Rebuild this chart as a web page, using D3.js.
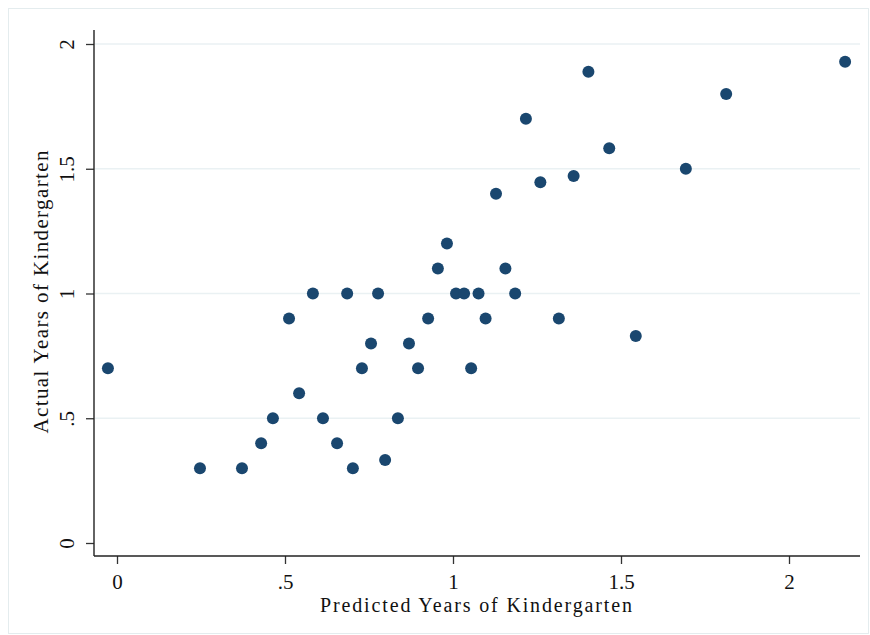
<!DOCTYPE html>
<html>
<head>
<meta charset="utf-8">
<script src="https://cdn.jsdelivr.net/npm/d3@7"></script>
<style>
  body { margin: 0; background: #fff; }
  svg text { font-family: "Liberation Serif", "DejaVu Serif", serif; fill: #111; }
</style>
</head>
<body>
<svg width="870" height="635"></svg>
<script>
// predicted vs actual years, one entry per point
const predicted = [
  -0.027, 0.247, 0.372, 0.429, 0.464, 0.512, 0.542, 0.583, 0.613, 0.655,
  0.685, 0.702, 0.729, 0.756, 0.777, 0.798, 0.836, 0.869, 0.896, 0.926,
  0.955, 0.982, 1.009, 1.033, 1.054, 1.076, 1.097, 1.128, 1.156, 1.185,
  1.217, 1.260, 1.315, 1.359, 1.403, 1.465, 1.544, 1.693, 1.813, 2.167
];
const actual = [
  0.70, 0.30, 0.30, 0.40, 0.50, 0.90, 0.60, 1.00, 0.50, 0.40,
  1.00, 0.30, 0.70, 0.80, 1.00, 0.333, 0.50, 0.80, 0.70, 0.90,
  1.10, 1.20, 1.00, 1.00, 0.70, 1.00, 0.90, 1.40, 1.10, 1.00,
  1.70, 1.446, 0.90, 1.471, 1.889, 1.582, 0.830, 1.50, 1.80, 1.929
];
const xTicks = [0, 0.5, 1, 1.5, 2];
const yTicks = [0, 0.5, 1, 1.5, 2];
const xTitle = 'Predicted Years of Kindergarten';
const yTitle = 'Actual Years of Kindergarten';

const fmt = d => d === 0 ? '0' : String(d).replace(/^0\./, '.');

const svg = d3.select('svg');
const data = predicted.map((p, i) => ({x: p, y: actual[i]}));

// frame
svg.append('rect')
  .attr('x', 8.5).attr('y', 8.5)
  .attr('width', 860).attr('height', 625)
  .attr('fill', '#fff')
  .attr('stroke', '#e4ecee');

const x = d3.scaleLinear().domain([0, 2]).range([117, 789]);
const y = d3.scaleLinear().domain([0, 2]).range([543, 44]);

const plotL = 94, plotR = 860, plotT = 30, plotB = 556;

// gridlines
svg.append('g')
  .selectAll('line')
  .data(yTicks.slice(1))
  .join('line')
    .attr('x1', plotL + 1).attr('x2', plotR)
    .attr('y1', d => y(d)).attr('y2', d => y(d))
    .attr('stroke', '#eaf1f3')
    .attr('stroke-width', 1.5);

// axes
const xAxis = svg.append('g')
  .attr('transform', `translate(0,${plotB})`)
  .call(d3.axisBottom(x).tickValues(xTicks).tickFormat(fmt).tickSize(8).tickPadding(10));
xAxis.select('.domain').remove();
xAxis.selectAll('.tick line').attr('stroke', '#333').attr('stroke-width', 1.3);
xAxis.selectAll('.tick text')
  .attr('font-size', 21)
  .attr('font-family', '"Liberation Serif", serif')
  .attr('fill', '#111');

const yAxis = svg.append('g')
  .attr('transform', `translate(${plotL},0)`)
  .call(d3.axisLeft(y).tickValues(yTicks).tickFormat(fmt).tickSize(8).tickPadding(0));
yAxis.select('.domain').remove();
yAxis.selectAll('.tick line').attr('stroke', '#333').attr('stroke-width', 1.3);
yAxis.selectAll('.tick text')
  .attr('font-size', 21)
  .attr('font-family', '"Liberation Serif", serif')
  .attr('fill', '#111')
  .attr('text-anchor', 'middle')
  .attr('x', null)
  .attr('transform', 'translate(-27,0) rotate(-90)')
  .attr('dy', '0.35em');

svg.append('line')
  .attr('x1', plotL).attr('x2', plotR)
  .attr('y1', plotB).attr('y2', plotB)
  .attr('stroke', '#222').attr('stroke-width', 1.4);
svg.append('line')
  .attr('x1', plotL).attr('x2', plotL)
  .attr('y1', plotT).attr('y2', plotB)
  .attr('stroke', '#222').attr('stroke-width', 1.4);

// titles
svg.append('text')
  .attr('x', 476).attr('y', 612)
  .attr('text-anchor', 'middle')
  .attr('font-size', 20)
  .attr('textLength', 312)
  .attr('lengthAdjust', 'spacing')
  .text(xTitle);
svg.append('text')
  .attr('transform', 'translate(48,292) rotate(-90)')
  .attr('text-anchor', 'middle')
  .attr('font-size', 21)
  .attr('textLength', 283)
  .attr('lengthAdjust', 'spacing')
  .text(yTitle);

// points
svg.append('g')
  .selectAll('circle')
  .data(data)
  .join('circle')
    .attr('cx', d => x(d.x))
    .attr('cy', d => y(d.y))
    .attr('r', 6)
    .attr('fill', '#1a476f');
</script>
</body>
</html>
